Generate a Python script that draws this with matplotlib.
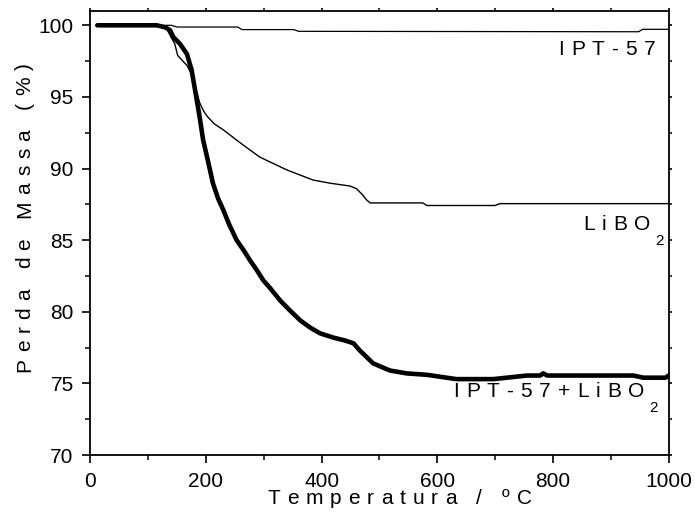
import math
import matplotlib
matplotlib.use("Agg")
import matplotlib.pyplot as plt
from matplotlib.ticker import MultipleLocator
from matplotlib.font_manager import FontProperties, findfont, get_font
try:
    from matplotlib.ft2font import LoadFlags
    NO_HINT = LoadFlags.NO_HINTING
except ImportError:
    from matplotlib.ft2font import LOAD_NO_HINTING as NO_HINT

FONT = 'Liberation Sans'
plt.rcParams['font.family'] = [FONT, 'DejaVu Sans']

# Thermogravimetric curves: temperature (ºC) vs remaining mass (%)
ipt_temp = [12, 140, 150, 255, 262, 352, 360, 948, 955, 1000]
ipt_mass = [100.0, 100.0, 99.88, 99.88, 99.7, 99.7, 99.58, 99.55, 99.72, 99.72]

libo_temp = [12, 100, 130, 138, 146, 151, 160, 167, 175, 181, 189, 196, 203,
             215, 230, 259, 293, 340, 385, 414, 449, 460, 470, 478, 484, 575,
             582, 700, 708, 1000]
libo_mass = [100.0, 100.0, 99.9, 99.3, 98.7, 97.9, 97.5, 97.2, 96.6, 95.8,
             94.6, 94.0, 93.6, 93.1, 92.7, 91.8, 90.8, 89.9, 89.2, 88.98,
             88.78, 88.6, 88.2, 87.8, 87.6, 87.6, 87.42, 87.42, 87.55, 87.55]

mix_temp = [12, 115, 130, 138, 143, 155, 167, 175, 181, 189, 195, 203, 212,
            221, 230, 240, 253, 265, 276, 288, 299, 312, 328, 345, 363, 380,
            397, 420, 440, 455, 466, 489, 518, 547, 582, 633, 697, 755, 778,
            783, 790, 939, 956, 995, 1000]
mix_mass = [100.0, 100.0, 99.85, 99.65, 99.2, 98.7, 98.0, 96.9, 95.5, 93.6,
            92.0, 90.6, 88.97, 87.9, 87.1, 86.1, 85.0, 84.3, 83.6, 82.9, 82.2,
            81.6, 80.8, 80.1, 79.4, 78.9, 78.5, 78.2, 78.0, 77.8, 77.3, 76.4,
            75.9, 75.7, 75.6, 75.3, 75.3, 75.55, 75.55, 75.7, 75.55, 75.55,
            75.4, 75.4, 75.55]

x_ticks = [0, 200, 400, 600, 800, 1000]
y_ticks = [70, 75, 80, 85, 90, 95, 100]

W, H, DPI = 695, 513, 100
fig = plt.figure(figsize=(W / DPI, H / DPI), dpi=DPI)
ax = fig.add_axes([0.130, 0.113, 0.832, 0.8656])

ax.plot(ipt_temp, ipt_mass, color='black', lw=0.9)
ax.plot(libo_temp, libo_mass, color='black', lw=1.0)
ax.plot(mix_temp, mix_mass, color='black', lw=3.3, solid_capstyle='round')

ax.set_xlim(0, 1000)
ax.set_ylim(70, 101)
ax.set_xticks(x_ticks)
ax.set_yticks(y_ticks)
ax.xaxis.set_minor_locator(MultipleLocator(100))
ax.yaxis.set_minor_locator(MultipleLocator(2.5))

for s in ax.spines.values():
    s.set_linewidth(1.3)

ax.tick_params(which='major', direction='out', length=6, width=1.2,
               labelsize=15, pad=6)
ax.tick_params(which='minor', direction='out', length=3.5, width=1.1)
ax.tick_params(axis='both', which='both', top=True, right=True,
               labeltop=False, labelright=False)
# short ticks on the top and right frame
for t in (ax.xaxis.get_major_ticks() + ax.xaxis.get_minor_ticks()
          + ax.yaxis.get_major_ticks() + ax.yaxis.get_minor_ticks()):
    t.tick2line.set_markersize(2.5)


def advance(ch, size):
    """Horizontal advance of one glyph, in pixels."""
    font = get_font(findfont(FontProperties(family=FONT)))
    font.set_size(size, DPI)
    return font.load_char(ord(ch), flags=NO_HINT).linearHoriAdvance / 65536.0


def tracked(x0, y0, text, size, spacing, rotation=0):
    """Letter-spaced text starting on its baseline at pixel (x0, y0), top-left origin."""
    a = math.radians(rotation)
    pos = 0.0
    for ch in text:
        if ch != ' ':
            fig.text((x0 + pos * math.cos(a)) / W, 1 - (y0 - pos * math.sin(a)) / H,
                     ch, fontsize=size, rotation=rotation, rotation_mode='anchor',
                     ha='left', va='baseline')
        pos += advance(ch, size) + spacing
    return pos


LABEL_SIZE = 15
TRACK = 7.0

# axis titles
tracked(267, 504, 'Temperatura / ºC', LABEL_SIZE, TRACK)
tracked(30, 372, 'Perda de Massa (%)', LABEL_SIZE, TRACK, rotation=90)

# curve labels
tracked(558, 55, 'IPT-57', LABEL_SIZE, TRACK)
w = tracked(583, 230, 'LiBO', LABEL_SIZE, TRACK)
tracked(583 + w - 2, 245, '2', 11, TRACK)
w = tracked(453, 397, 'IPT-57+LiBO', LABEL_SIZE, TRACK)
tracked(453 + w - 2, 412, '2', 11, TRACK)

fig.savefig('out.png', dpi=DPI)
